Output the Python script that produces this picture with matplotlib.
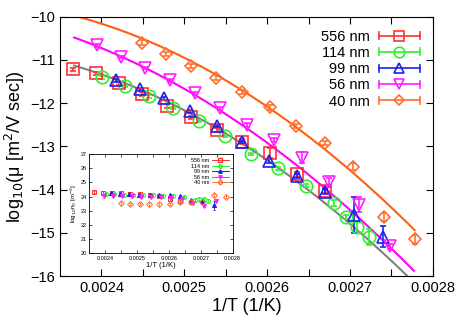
import numpy as np
import matplotlib
matplotlib.use("Agg")
import matplotlib.pyplot as plt
from matplotlib.lines import Line2D
from matplotlib.legend_handler import HandlerBase

plt.rcParams['font.family'] = ['Liberation Sans', 'DejaVu Sans']

# --- data ---
labels = ['556 nm', '114 nm', '99 nm', '56 nm', '40 nm']

x556 = [0.002366, 0.002393, 0.002421, 0.002449, 0.002479, 0.002508, 0.002539, 0.002570, 0.002603, 0.002636, 0.002670]
y556 = [-11.22, -11.31, -11.54, -11.79, -12.07, -12.33, -12.62, -12.89, -13.16, -13.65, -14.03]
e556 = [0.04, 0.04, 0.04, 0.04, 0.04, 0.04, 0.04, 0.05, 0.12, 0.05, 0.06]
n556 = [24.33, 24.28, 24.26, 24.24, 24.21, 24.17, 24.12, 24.05, 23.80, 23.70, 23.62]

x114 = [0.002401, 0.002429, 0.002458, 0.002487, 0.002518, 0.002549, 0.002581, 0.002613, 0.002647, 0.002681, 0.002695, 0.002709, 0.002723]
y114 = [-11.40, -11.60, -11.84, -12.11, -12.41, -12.76, -13.18, -13.51, -13.91, -14.31, -14.64, -14.86, -15.09]
e114 = [0.03, 0.03, 0.03, 0.03, 0.03, 0.03, 0.03, 0.04, 0.04, 0.08, 0.05, 0.12, 0.18]
n114 = [24.18, 24.15, 24.12, 24.10, 24.10, 24.08, 24.05, 24.02, 23.98, 23.78, 23.82, 23.80, 23.72]

x99 = [0.002418, 0.002447, 0.002476, 0.002507, 0.002539, 0.002570, 0.002602, 0.002636, 0.002670, 0.002705, 0.002740]
y99 = [-11.47, -11.68, -11.89, -12.19, -12.53, -12.90, -13.34, -13.68, -14.05, -14.59, -15.09]
e99 = [0.03, 0.03, 0.03, 0.03, 0.03, 0.03, 0.04, 0.05, 0.06, 0.42, 0.24]
n99 = [24.22, 24.18, 24.15, 24.13, 24.10, 24.10, 24.08, 24.02, 23.75, 23.72, 23.38]

x56 = [0.002395, 0.002424, 0.002452, 0.002483, 0.002513, 0.002543, 0.002576, 0.002608, 0.002642, 0.002675, 0.002711, 0.002748]
y56 = [-10.66, -10.93, -11.19, -11.47, -11.77, -12.12, -12.51, -12.85, -13.26, -13.83, -14.35, -15.31]
e56 = [0.03, 0.03, 0.03, 0.03, 0.03, 0.03, 0.04, 0.05, 0.13, 0.10, 0.17, 0.06]
n56 = [24.05, 24.05, 24.02, 24.02, 24.00, 23.98, 23.95, 23.90, 23.80, 23.55, 23.35, 23.70]

x40 = [0.002449, 0.002478, 0.002508, 0.002538, 0.002570, 0.002603, 0.002635, 0.002670, 0.002704, 0.002741, 0.002778]
y40 = [-10.60, -10.86, -11.14, -11.41, -11.74, -12.10, -12.53, -12.92, -13.47, -14.63, -15.15]
e40 = [0.05, 0.05, 0.05, 0.05, 0.05, 0.05, 0.05, 0.05, 0.08, 0.10, 0.10]
n40 = [23.52, 23.50, 23.48, 23.45, 23.45, 23.50, 23.62, 23.60, 23.60, 24.08, 24.00]

# points
fit_gray_x = [0.002367, 0.0025, 0.0026, 0.0027, 0.002767]
fit_gray_y = [-11.12, -12.18, -13.35, -14.71, -16.0]
fit_mag_x = [0.002367, 0.0025, 0.0026, 0.0027, 0.002777]
fit_mag_y = [-10.44, -11.79, -12.85, -14.40, -15.93]
fit_org_x = [0.002391, 0.002449, 0.002508, 0.002603, 0.00267, 0.002778]
fit_org_y = [-10.0, -10.60, -11.14, -12.10, -12.92, -15.01]

colors = ['#ff3030', '#30f030', '#2020f0', '#ff20ff', '#ff7030']
markers = ['s', 'o', '^', 'v', 'D']
msizes = [9, 9, 8.5, 8.5, 6.5]

xs = [x556, x114, x99, x56, x40]
ys = [y556, y114, y99, y56, y40]
es = [e556, e114, e99, e56, e40]
ns = [n556, n114, n99, n56, n40]


class ErrHandler(HandlerBase):
    def create_artists(self, legend, orig, xd, yd, width, height, fontsize, trans):
        c = orig.get_color()
        y = height / 2 - yd
        cap = height * 0.35
        arts = [Line2D([-xd, -xd + width], [y, y], color=c, lw=1.2),
                Line2D([-xd, -xd], [y - cap, y + cap], color=c, lw=1.2),
                Line2D([-xd + width, -xd + width], [y - cap, y + cap], color=c, lw=1.2),
                Line2D([-xd + width / 2], [y], marker=orig.get_marker(), ms=orig.get_markersize(),
                       mfc='none', mec=c, mew=1.2, ls='none')]
        for a in arts:
            a.set_transform(trans)
        return arts


fig = plt.figure(figsize=(4.58, 3.21), dpi=100)
ax = fig.add_axes([0.131, 0.140, 0.814, 0.808])

handles = []
for x, y, e, c, m, ms, lab in zip(xs, ys, es, colors, markers, msizes, labels):
    ax.errorbar(x, y, yerr=e, fmt=m, ms=ms, mfc='none', mec=c, mew=1.2,
                ecolor=c, elinewidth=1.2, capsize=2, capthick=1.2, zorder=3)
    handles.append(Line2D([], [], color=c, marker=m, ms=ms * 0.85, label=lab))

fits = [(fit_gray_x, fit_gray_y, '#808080', 0.002367, 0.00278),
        (fit_mag_x, fit_mag_y, '#ff00ff', 0.002367, 0.002777),
        (fit_org_x, fit_org_y, '#ff6010', 0.00237, 0.002778)]
for fx, fy, c, a, b in fits:
    p = np.polyfit(fx, fy, 2)
    t = np.linspace(a, b, 200)
    ax.plot(t, np.polyval(p, t), color=c, lw=1.5, zorder=2)

ax.set_xlim(0.00235, 0.0028)
ax.set_ylim(-16, -10)
ax.set_xticks(np.arange(0.0024, 0.00281, 0.0001))
ax.set_xticklabels(['0.0024', '0.0025', '0.0026', '0.0027', '0.0028'])
ax.set_xticks(np.arange(0.00245, 0.0028, 0.0001), minor=True)
ax.set_yticks(np.arange(-16, -9.5, 1))
ax.tick_params(which='both', direction='in', top=True, right=True, length=5, width=0.8, labelsize=10.5)
ax.set_xlabel('1/T (1/K)', fontsize=13, labelpad=2)
ax.set_ylabel('log$_{10}$(μ [m$^2$/V sec])', fontsize=13, labelpad=2)

ax.legend(handles=handles, handler_map={Line2D: ErrHandler()}, loc='upper right',
          frameon=False, markerfirst=False, fontsize=10.5, handlelength=2.8,
          labelspacing=0.15, borderaxespad=0.5, handletextpad=0.6)

# inset
ins = fig.add_axes([0.195, 0.211, 0.313, 0.309])
for x, n, c, m in zip(xs, ns, colors, markers):
    filled = m in ('^', 'v')
    err = [0.3 if (m == '^' and i == len(n) - 1) else 0.08 for i in range(len(n))]
    ins.errorbar(x, n, yerr=err, fmt=m, ms=3, mfc=c if filled else 'none', mec=c, mew=0.7,
                 ecolor=c, elinewidth=0.6, capsize=0.8)
ins.set_xlim(0.00235, 0.0028)
ins.set_ylim(20, 27)
ins.set_xticks(np.arange(0.0024, 0.00281, 0.0001))
ins.set_xticklabels(['0.0024', '0.0025', '0.0026', '0.0027', '0.0028'])
ins.set_xticks(np.arange(0.00245, 0.0028, 0.0001), minor=True)
ins.set_yticks(np.arange(20, 28, 1))
ins.tick_params(which='both', direction='in', top=True, right=True, length=2, width=0.5, labelsize=4, pad=2)
ins.set_xlabel('1/T (1/K)', fontsize=5.5, labelpad=1)
ins.set_ylabel('log$_{10}$n$_0$ [m$^{-3}$]', fontsize=4.5, labelpad=1)
for s in ins.spines.values():
    s.set_linewidth(0.6)
ih = [Line2D([], [], color=c, marker=m, ms=2.5, mfc=c if m in ('^', 'v') else 'none', lw=0.7, label=l)
      for c, m, l in zip(colors, markers, labels)]
ins.legend(handles=ih, loc='upper right', frameon=False, markerfirst=False, fontsize=4,
           handlelength=3, labelspacing=0.1, borderaxespad=0.3, handletextpad=0.5)

fig.savefig('out.png', dpi=100)
